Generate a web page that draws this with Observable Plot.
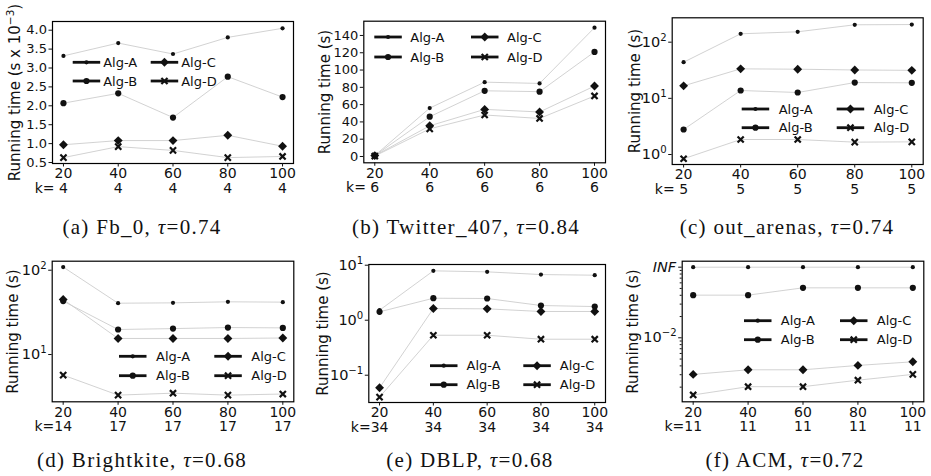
<!DOCTYPE html>
<html><head><meta charset="utf-8">
<script src="https://cdn.jsdelivr.net/npm/d3@7"></script>
<script src="https://cdn.jsdelivr.net/npm/@observablehq/plot@0.6"></script>
<style>
body{margin:0;background:#fff;}
#fig{position:relative;width:931px;height:476px;overflow:hidden;font-family:"DejaVu Sans",sans-serif;background:#fff;}
.panel{position:absolute;}
.cap{position:absolute;font-family:"Liberation Serif",serif;font-size:21px;line-height:21px;letter-spacing:1.3px;color:#111;white-space:nowrap;transform:translateX(-50%);}
</style></head><body><div id="fig"></div>
<script>
const xValues = [20, 40, 60, 80, 100];
const algs = ["Alg-A", "Alg-B", "Alg-C", "Alg-D"];

// (a) Fb_0  (values in s x 10^-3)
const fb0K = [4, 4, 4, 4, 4];
const fb0A = [3.32, 3.66, 3.37, 3.81, 4.05];
const fb0B = [2.07, 2.33, 1.69, 2.77, 2.23];
const fb0C = [0.97, 1.08, 1.08, 1.22, 0.93];
const fb0D = [0.63, 0.92, 0.82, 0.63, 0.66];
const fb0Ticks = [0.5, 1.0, 1.5, 2.0, 2.5, 3.0, 3.5, 4.0];

// (b) Twitter_407
const twK = [6, 6, 6, 6, 6];
const twA = [1, 56, 86, 84.5, 149];
const twB = [1, 46, 76, 75, 121];
const twC = [1, 35.5, 54.5, 51.5, 81.5];
const twD = [0.5, 32, 48, 44, 70];
const twTicks = [0, 20, 40, 60, 80, 100, 120, 140];

// (c) out_arenas
const oaK = [5, 5, 5, 5, 5];
const oaA = [44, 141, 153, 204, 206];
const oaB = [2.79, 13.8, 12.7, 19.1, 18.9];
const oaC = [16.7, 33.5, 33, 32, 31.5];
const oaD = [0.84, 1.85, 1.85, 1.66, 1.68];
const oaTicks = [1, 10, 100];
const oaTickLabels = ["10⁰", "10¹", "10²"];

// (d) Brightkite
const bkK = [14, 17, 17, 17, 17];
const bkA = [109, 40.6, 41, 42.2, 41.8];
const bkB = [43, 19.8, 20.3, 20.9, 20.7];
const bkC = [45, 15.5, 15.5, 15.5, 15.7];
const bkD = [5.7, 3.3, 3.48, 3.3, 3.4];
const bkTicks = [10, 100];
const bkTickLabels = ["10¹", "10²"];

// (e) DBLP
const dbK = [34, 34, 34, 34, 34];
const dbA = [1.52, 7.9, 7.57, 6.76, 6.58];
const dbB = [1.42, 2.51, 2.48, 1.85, 1.77];
const dbC = [0.059, 1.63, 1.61, 1.44, 1.44];
const dbD = [0.040, 0.533, 0.533, 0.451, 0.451];
const dbTicks = [0.1, 1, 10];
const dbTickLabels = ["10⁻¹", "10⁰", "10¹"];

// (f) ACM  (Alg-A did not finish: plotted at the INF level)
const acK = [11, 11, 11, 11, 11];
const acA = [0.1, 0.1, 0.1, 0.1, 0.1];
const acB = [0.0402, 0.0402, 0.051, 0.051, 0.051];
const acC = [0.00303, 0.00352, 0.00352, 0.00406, 0.00457];
const acD = [0.00155, 0.00203, 0.00203, 0.00251, 0.00303];
const acTicks = [0.01, 0.1];
const acTickLabels = ["10⁻²", ""];
const acInfLabel = "INF";
const acMinorTicks = [0.002,0.003,0.004,0.005,0.006,0.007,0.008,0.009,0.02,0.03,0.04,0.05,0.06,0.07,0.08,0.09];

const captions = ["(a) Fb_0, ", "(b) Twitter_407, ", "(c) out_arenas, ", "(d) Brightkite, ", "(e) DBLP, ", "(f) ACM, "];
const taus = ["0.74", "0.84", "0.74", "0.68", "0.68", "0.72"];

const lookup = (ticks, labels) => d => {
  const i = ticks.findIndex(t => Math.abs(t - d) / t < 1e-6 || t === d);
  return i < 0 ? "" : labels[i];
};

const panels = [
  {ox:0, oy:0, w:310, fl:52, fr:293, ft:21, fb:163, type:"linear", dom:[0.474, 4.23], ticks:fb0Ticks, fmt:d=>d.toFixed(1), yfs:13,
   ylabel:"Running time (s x 10⁻³)", ldx:-37, series:[fb0A,fb0B,fb0C,fb0D], ks:fb0K,
   leg:{c1:72.7, c2:150.7, r1:62.3, r2:81, gap:3}, capX:142, capY:227},
  {ox:310, oy:0, w:310, fl:363.3, fr:605, ft:20.7, fb:162.3, type:"linear", dom:[-7.3, 156.5], ticks:twTicks, fmt:d=>String(d), yfs:13,
   ylabel:"Running time (s)", ldx:-38.3, series:[twA,twB,twC,twD], ks:twK,
   leg:{c1:374.3, c2:471, r1:37, r2:57, gap:8.5}, capX:466, capY:227},
  {ox:620, oy:0, w:311, fl:671.7, fr:922.7, ft:17.3, fb:164, type:"log", dom:[0.664, 271.6], ticks:oaTicks, fmt:lookup(oaTicks, oaTickLabels), yfs:14.5,
   ylabel:"Running time (s)", ldx:-36.7, series:[oaA,oaB,oaC,oaD], ks:oaK,
   leg:{c1:741.7, c2:836.7, r1:109, r2:127.7, gap:9.5}, capX:787, capY:227},
  {ox:0, oy:238, w:310, fl:51.7, fr:293.3, ft:260.7, fb:401.3, type:"log", dom:[2.75, 127.9], ticks:bkTicks, fmt:lookup(bkTicks, bkTickLabels), yfs:14.5,
   ylabel:"Running time (s)", ldx:-38.7, series:[bkA,bkB,bkC,bkD], ks:bkK,
   leg:{c1:119, c2:214.3, r1:356.3, r2:375.7, gap:9.5}, capX:142, capY:460},
  {ox:310, oy:238, w:310, fl:368.3, fr:605, ft:264, fb:402, type:"log", dom:[0.0319, 10.3], ticks:dbTicks, fmt:lookup(dbTicks, dbTickLabels), yfs:14.5,
   ylabel:"Running time (s)", ldx:-45.3, series:[dbA,dbB,dbC,dbD], ks:dbK,
   leg:{c1:430, c2:523.3, r1:365.7, r2:384.7, gap:9}, capX:470, capY:460},
  {ox:620, oy:238, w:311, fl:681.7, fr:923.3, ft:260.7, fb:401.3, type:"log", dom:[0.00124, 0.1216], ticks:acTicks, fmt:lookup(acTicks, acTickLabels), yfs:14.5,
   ylabel:"Running time (s)", ldx:-48.7, series:[acA,acB,acC,acD], ks:acK, inf:true,
   leg:{c1:744, c2:840, r1:320.7, r2:339.7, gap:9.3}, capX:785, capY:460}
];

const INK = "#111";
const LINE = "#cdcdcd";
const fig = document.getElementById("fig");
const rA = 2.1, rB = 3.1, rC = 4, rD = 2.9;
const supMap = {"⁰":"0", "¹":"1", "²":"2", "³":"3", "⁻":"−"};

// render "10⁻³"-style text with a real raised, smaller exponent (as mathtext does)
function mathSup(svgNode) {
  d3.select(svgNode).selectAll("text").each(function() {
    const t = this;
    if (t.querySelector("tspan")) return;
    const m = t.textContent.match(/^(.*10)([⁰¹²³⁻]+)(.*)$/);
    if (!m) return;
    const fs = parseFloat(getComputedStyle(t).fontSize) || 14;
    const rise = 0.42 * fs;
    while (t.firstChild) t.removeChild(t.firstChild);
    const ns = "http://www.w3.org/2000/svg";
    const a = document.createElementNS(ns, "tspan");
    a.textContent = m[1];
    t.appendChild(a);
    const b = document.createElementNS(ns, "tspan");
    b.textContent = [...m[2]].map(c => supMap[c]).join("");
    b.setAttribute("dy", -rise);
    b.setAttribute("font-size", (0.7 * fs).toFixed(2));
    t.appendChild(b);
    if (m[3]) {
      const c = document.createElementNS(ns, "tspan");
      c.textContent = m[3];
      c.setAttribute("dy", rise);
      t.appendChild(c);
    }
  });
}

panels.forEach((p, pi) => {
  const H = 205;
  const rows = [];
  p.series.forEach((vals, i) => vals.forEach((v, j) => rows.push({alg: algs[i], x: xValues[j], y: v})));
  const by = a => rows.filter(d => d.alg === a);
  const kRows = p.ks.map((k, j) => ({x: xValues[j], k}));
  const firstK = String(p.ks[0]);
  const inset = (p.fr - p.fl) * 0.05 / 1.1;
  const marks = [
    Plot.line(rows, {x:"x", y:"y", z:"alg", stroke:LINE, strokeWidth:0.9}),
    Plot.dot(by("Alg-A"), {x:"x", y:"y", r:rA, fill:INK}),
    Plot.dot(by("Alg-B"), {x:"x", y:"y", r:rB, fill:INK}),
    Plot.dot(by("Alg-C"), {x:"x", y:"y", symbol:"diamond2", r:rC, fill:INK}),
    Plot.dot(by("Alg-D"), {x:"x", y:"y", symbol:"times", r:rD, stroke:INK, strokeWidth:2.2}),
    Plot.frame({stroke:"#000", strokeWidth:1.2}),
    Plot.axisX({ticks:xValues, tickSize:3.5, tickPadding:1.5, fontSize:14, label:null, tickFormat:d=>String(d)}),
    Plot.axisY({ticks:p.ticks, tickSize:3.5, tickPadding:2, fontSize:p.yfs, label:null, tickFormat:p.fmt}),
    Plot.text(kRows.slice(0,1), {x:"x", text:d => (firstK.length === 1 ? "k= " : "k=") + d.k, frameAnchor:"bottom", dy:29,
      textAnchor:"end", dx:firstK.length*0.636*14/2, fontSize:14}),
    Plot.text(kRows.slice(1), {x:"x", text:d => String(d.k), frameAnchor:"bottom", dy:29, fontSize:14}),
    Plot.text([p.ylabel], {text:d => d, frameAnchor:"left", textAnchor:"middle", rotate:-90, dx:p.ldx, fontSize:15})
  ];
  if (p.inf) {
    marks.push(Plot.axisY({ticks:acMinorTicks, tickSize:2, label:null, tickFormat:() => ""}));
    marks.push(Plot.text([acTicks[1]], {y:d => d, text:() => acInfLabel, frameAnchor:"left", textAnchor:"end", dx:-6, fontSize:14.5, fontStyle:"italic"}));
  }
  const chart = Plot.plot({
    width: p.w, height: H,
    marginLeft: p.fl - p.ox, marginRight: p.ox + p.w - p.fr,
    marginTop: p.ft - p.oy, marginBottom: H - (p.fb - p.oy),
    x: {type:"linear", domain:[20, 100], inset, axis:null},
    y: {type:p.type, domain:p.dom, axis:null},
    style: {fontFamily:"'DejaVu Sans'", fontSize:"13px", color:INK, background:"transparent", overflow:"visible"},
    marks
  });
  // legend
  const svg = d3.select(chart);
  const g = svg.append("g").attr("transform", `translate(${-p.ox},${-p.oy})`);
  const L = p.leg, len = 27.5;
  const pos = [[L.c1, L.r1], [L.c1, L.r2], [L.c2, L.r1], [L.c2, L.r2]];
  algs.forEach((a, i) => {
    const [x0, y0] = pos[i];
    g.append("line").attr("x1", x0).attr("x2", x0 + len).attr("y1", y0).attr("y2", y0)
      .attr("stroke", INK).attr("stroke-width", 2.8);
    const cx = x0 + len / 2;
    if (i === 0) g.append("circle").attr("cx", cx).attr("cy", y0).attr("r", rA).attr("fill", INK);
    if (i === 1) g.append("circle").attr("cx", cx).attr("cy", y0).attr("r", rB).attr("fill", INK);
    if (i === 2) g.append("path").attr("d", d3.symbol(d3.symbolDiamond2, Math.PI * rC * rC)()).attr("transform", `translate(${cx},${y0})`).attr("fill", INK);
    if (i === 3) g.append("path").attr("d", d3.symbol(d3.symbolTimes, Math.PI * rD * rD)()).attr("transform", `translate(${cx},${y0})`)
      .attr("fill", "none").attr("stroke", INK).attr("stroke-width", 2.2);
    g.append("text").attr("x", x0 + len + L.gap).attr("y", y0).attr("dy", "0.35em")
      .attr("text-anchor", "start").attr("font-size", 13).attr("fill", INK).text(a);
  });
  const div = document.createElement("div");
  div.className = "panel";
  div.style.left = p.ox + "px";
  div.style.top = p.oy + "px";
  div.appendChild(chart);
  fig.appendChild(div);
  mathSup(chart);
  const cap = document.createElement("div");
  cap.className = "cap";
  cap.style.left = p.capX + "px";
  cap.style.top = (p.capY - 10.5) + "px";
  cap.append(captions[pi]);
  const it = document.createElement("i");
  it.textContent = "τ";
  cap.append(it);
  cap.append("=" + taus[pi]);
  fig.appendChild(cap);
});
</script></body></html>
